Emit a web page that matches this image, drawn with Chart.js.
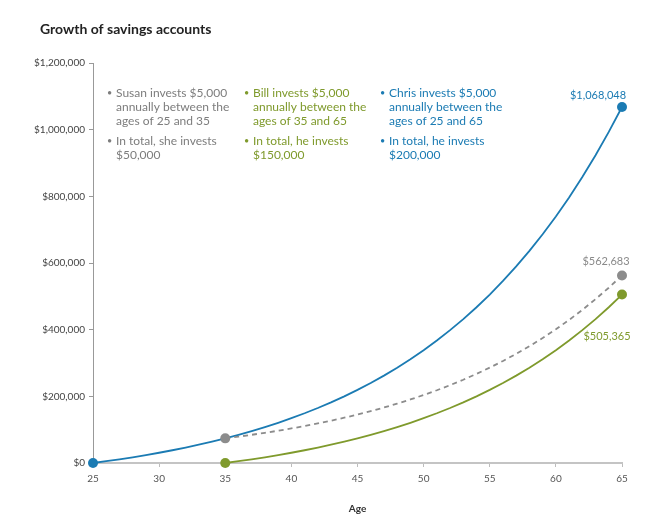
<!DOCTYPE html>
<html>
<head>
<meta charset="utf-8">
<script src="https://cdn.jsdelivr.net/npm/chart.js@4.4.0/dist/chart.umd.min.js"></script>
<style>
  html, body { margin: 0; padding: 0; background: #ffffff; }
  #wrap { width: 664px; height: 519px; position: relative; }
</style>
</head>
<body>
<div id="wrap"><canvas id="c" width="664" height="519"></canvas></div>
<script>
// ---- Data ----
const chrisAges = [25,26,27,28,29,30,31,32,33,34,35,36,37,38,39,40,41,42,43,44,45,46,47,48,49,50,51,52,53,54,55,56,57,58,59,60,61,62,63,64,65];
const chrisValues = [0,5350,11074,17200,23754,30766,38270,46299,54890,64082,73918,84442,95703,107753,120646,134441,149201,164995,181895,199978,219326,240029,262181,285884,311246,338382,367419,398489,431734,467304,505365,546091,589667,636294,686185,739567,796687,857804,923202,993176,1068048];

const laterAges = [35,36,37,38,39,40,41,42,43,44,45,46,47,48,49,50,51,52,53,54,55,56,57,58,59,60,61,62,63,64,65];
const susanValues = [73918,79092,84629,90553,96891,103674,110931,118696,127005,135895,145408,155587,166476,178131,190600,203942,218218,233493,249838,267326,286039,306062,327486,350411,374939,401185,429268,459315,491466,525869,562683];
const billValues = [0,5350,11074,17200,23754,30766,38270,46299,54890,64082,73918,84442,95703,107753,120646,134441,149201,164995,181895,199978,219326,240029,262181,285884,311246,338382,367419,398489,431734,467304,505365];

const xTickValues = [25,30,35,40,45,50,55,60,65];
const yTickValues = [0,200000,400000,600000,800000,1000000,1200000];

const titleText = "Growth of savings accounts";
const xAxisTitle = "Age";
const notes = [
  { color: "#7d7d7d", lines: [["Susan invests $5,000","annually between the","ages of 25 and 35"],["In total, she invests","$50,000"]] },
  { color: "#7f9a2c", lines: [["Bill invests $5,000","annually between the","ages of 35 and 65"],["In total, he invests","$150,000"]] },
  { color: "#1b7bb3", lines: [["Chris invests $5,000","annually between the","ages of 25 and 65"],["In total, he invests","$200,000"]] }
];
const endLabels = ["$1,068,048", "$562,683", "$505,365"];

// ---- Colours ----
const BLUE = "#1b7bb3", GREEN = "#7f9a2c", GREY = "#8c8c8c";
const FONT = "Lato, 'Open Sans', sans-serif";

const toXY = (xs, ys) => xs.map((x, i) => ({ x: x, y: ys[i] }));
const endDots = (r) => (ctx) => (ctx.dataIndex === 0 || ctx.dataIndex === ctx.dataset.data.length - 1) ? r : 0;
const fmt = v => "$" + Number(v).toLocaleString("en-US");

const overlay = {
  id: "overlay",
  afterDraw(chart) {
    const c = chart.ctx;
    c.save();
    // title
    c.fillStyle = "#222";
    c.font = "bold 14px " + FONT;
    c.textBaseline = "middle";
    c.textAlign = "left";
    c.fillText(titleText, 40, 29);

    // notes
    const colX = [107, 244, 380];
    notes.forEach((n, i) => {
      c.fillStyle = n.color;
      let y = 93;
      n.lines.forEach((group) => {
        c.font = "9px " + FONT;
        c.fillText("\u2022", colX[i], y);
        c.font = "12px " + FONT;
        group.forEach((t) => { c.fillText(t, colX[i] + 9, y); y += 14; });
        y += 6;
      });
    });

    // end labels
    const xs = chart.scales.x, ys = chart.scales.y;
    c.font = "11px " + FONT;
    c.textAlign = "center";
    c.fillStyle = BLUE;
    c.fillText(endLabels[0], xs.getPixelForValue(65) - 24, ys.getPixelForValue(1068048) - 12);
    c.fillStyle = "#8a8a8a";
    c.fillText(endLabels[1], xs.getPixelForValue(65) - 16, ys.getPixelForValue(562683) - 14);
    c.fillStyle = GREEN;
    c.fillText(endLabels[2], xs.getPixelForValue(65) - 15, ys.getPixelForValue(505365) + 42);
    c.restore();
  }
};

new Chart(document.getElementById("c"), {
  type: "line",
  data: {
    datasets: [
      { label: "Susan", data: toXY(laterAges, susanValues), borderColor: GREY, backgroundColor: GREY,
        borderDash: [5, 4], borderWidth: 1.8, pointRadius: endDots(5), pointBorderWidth: 0, pointHoverRadius: 0, order: 0, tension: 0, clip: false },
      { label: "Bill", data: toXY(laterAges, billValues), borderColor: GREEN, backgroundColor: GREEN,
        borderWidth: 1.8, pointRadius: endDots(5), pointBorderWidth: 0, pointHoverRadius: 0, order: 1, tension: 0, clip: false },
      { label: "Chris", data: toXY(chrisAges, chrisValues), borderColor: BLUE, backgroundColor: BLUE,
        borderWidth: 1.8, pointRadius: endDots(5), pointBorderWidth: 0, pointHoverRadius: 0, order: 2, tension: 0, clip: false }
    ]
  },
  options: {
    responsive: false,
    animation: false,
    events: [],
    layout: { padding: { left: 0, right: 42, top: 63, bottom: 0 } },
    plugins: { legend: { display: false }, tooltip: { enabled: false }, title: { display: false } },
    scales: {
      x: {
        type: "linear", min: 25, max: 65,
        afterFit: s => { s.height = 56; },
        afterBuildTicks: s => { s.ticks = xTickValues.map(v => ({ value: v })); },
        grid: { drawOnChartArea: false, drawTicks: true, tickLength: 4, color: "#bdbdbd", lineWidth: 1 },
        border: { display: true, color: "#c4c4c4", width: 2 },
        ticks: { color: "#555", font: { family: FONT, size: 10 }, padding: 6, maxRotation: 0 },
        title: { display: true, text: xAxisTitle, color: "#333", font: { family: FONT, size: 10, weight: "bold" }, padding: { top: 10 } }
      },
      y: {
        min: 0, max: 1200000,
        afterFit: s => { s.width = 93; },
        afterBuildTicks: s => { s.ticks = yTickValues.map(v => ({ value: v })); },
        grid: { drawOnChartArea: false, drawTicks: true, tickLength: 4, color: "#999", lineWidth: 1 },
        border: { display: true, color: "#999", width: 1 },
        ticks: { color: "#444", font: { family: FONT, size: 10 }, padding: 4, callback: v => fmt(v) }
      }
    }
  },
  plugins: [overlay]
});
</script>
</body>
</html>
